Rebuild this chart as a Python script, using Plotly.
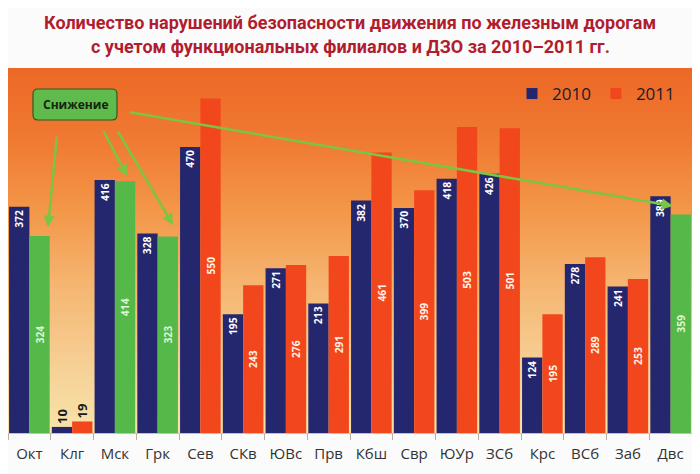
import plotly.graph_objects as go

# ---------------- data ----------------
categories = ["Окт", "Клг", "Мск", "Грк", "Сев", "СКв", "ЮВс", "Прв",
              "Кбш", "Свр", "ЮУр", "ЗСб", "Крс", "ВСб", "Заб", "Двс"]
values_2010 = [372, 10, 416, 328, 470, 195, 271, 213, 382, 370, 418, 426, 124, 278, 241, 389]
values_2011 = [324, 19, 414, 323, 550, 243, 276, 291, 461, 399, 503, 501, 195, 289, 253, 359]
series_names = ["2010", "2011"]
title_lines = ["Количество нарушений безопасности движения по железным дорогам",
               "с учетом функциональных филиалов и ДЗО за 2010–2011 гг."]
callout_text = "Снижение"

# ---------------- styles ----------------
OFF = 8                      # page body margin of the html page
W, H = 700 - OFF, 474 - OFF  # figure size so it fits the window
PLOT_L, PLOT_R, PLOT_T, PLOT_B = 8, 692, 68, 433   # target plot box in page pixels
ML, MR = PLOT_L - OFF, W - (PLOT_R - OFF)
MT, MB = PLOT_T - OFF, H - (PLOT_B - OFF)
PW, PH = W - ML - MR, H - MT - MB
NAVY = "#24266e"
RED = "#f2471d"
GREEN = "#55b94a"
ARROW = "#7cc443"
TITLE_C = "#b11d2f"

def px_to_paper(px, py):
    return (px - OFF - ML) / PW, (H - MB - (py - OFF)) / PH

def small(v):
    return v < 50

red_cols = [GREEN if b < a else RED for a, b in zip(values_2010, values_2011)]
red_txtcol = ["#dff7d2" if b < a else "#fff3ea" for a, b in zip(values_2010, values_2011)]

fig = go.Figure()
fig.add_trace(go.Bar(
    x=categories, y=values_2010, name=series_names[0], showlegend=False,
    marker=dict(color=NAVY, line=dict(width=0)),
    text=[str(v) for v in values_2010],
    textposition=["outside" if small(v) else "inside" for v in values_2010],
    insidetextanchor="end", textangle=-90,
    insidetextfont=dict(family="Open Sans", size=13, color="#ffffff", weight="bold"),
    outsidetextfont=dict(family="Open Sans", size=13, color="#1a1a1a", weight="bold"),
    cliponaxis=False,
))
fig.add_trace(go.Bar(
    x=categories, y=values_2011, name=series_names[1], showlegend=False,
    marker=dict(color=red_cols, line=dict(width=0)),
    text=[str(v) for v in values_2011],
    textposition=["outside" if small(v) else "inside" for v in values_2011],
    insidetextanchor="middle", textangle=-90,
    insidetextfont=dict(family="Open Sans", size=13, color=red_txtcol, weight="bold"),
    outsidetextfont=dict(family="Open Sans", size=13, color="#1a1a1a", weight="bold"),
    cliponaxis=False,
))
# legend entries
for name, col in zip(series_names, [NAVY, RED]):
    fig.add_trace(go.Scatter(x=[None], y=[None], mode="markers", name=name,
                             marker=dict(symbol="square", size=11, color=col,
                                         line=dict(width=0))))

# gradient background of the plot area (horizontal bands)
stops = [(0.0, (248, 228, 170)), (0.18, (246, 208, 150)), (0.40, (245, 182, 114)),
         (0.60, (243, 152, 74)), (0.80, (240, 122, 50)), (1.0, (236, 104, 38))]

def grad(t):
    for (t0, c0), (t1, c1) in zip(stops[:-1], stops[1:]):
        if t0 <= t <= t1:
            f = (t - t0) / (t1 - t0)
            return "rgb(%d,%d,%d)" % tuple(round(a + (b - a) * f) for a, b in zip(c0, c1))
    return "rgb(%d,%d,%d)" % stops[-1][1]

shapes = []
N = 90
for i in range(N):
    y0, y1 = i / N, (i + 1) / N + 0.002
    shapes.append(dict(type="rect", xref="paper", yref="paper", x0=0, x1=1, y0=y0, y1=min(y1, 1),
                       fillcolor=grad((i + 0.5) / N), line=dict(width=0), layer="below"))

# rounded callout box
bx0, by0 = px_to_paper(33, 120)
bx1, by1 = px_to_paper(117, 89)
rx, ry = 5 / PW, 5 / PH
path = (f"M {bx0+rx},{by0} L {bx1-rx},{by0} Q {bx1},{by0} {bx1},{by0+ry} "
        f"L {bx1},{by1-ry} Q {bx1},{by1} {bx1-rx},{by1} L {bx0+rx},{by1} "
        f"Q {bx0},{by1} {bx0},{by1-ry} L {bx0},{by0+ry} Q {bx0},{by0} {bx0+rx},{by0} Z")
shapes.append(dict(type="path", xref="paper", yref="paper", path=path,
                   fillcolor="#5fbb4c", line=dict(color="#2f5a22", width=1.2), layer="above"))

annotations = []
# title lines
for line, py in zip(title_lines, [23, 46]):
    tx, ty = px_to_paper(350, py)
    annotations.append(dict(x=tx, y=ty, xref="paper", yref="paper", text=f"<b>{line}</b>",
                            showarrow=False, xanchor="center", yanchor="middle",
                            font=dict(family="Roboto", size=18, color=TITLE_C)))

cx, cy = px_to_paper(75, 104.5)
annotations.append(dict(x=cx, y=cy, xref="paper", yref="paper", text=f"<b>{callout_text}</b>",
                        showarrow=False, xanchor="center", yanchor="middle",
                        font=dict(family="Open Sans", size=12, color="#15230f")))

arrows = [((57, 135), (48, 227)), ((103, 130), (127, 176)),
          ((117, 130), (173, 225)), ((128, 112), (673, 206))]
for (tx, ty), (hx, hy) in arrows:
    x, y = px_to_paper(hx, hy)
    annotations.append(dict(x=x, y=y, xref="paper", yref="paper", text="", showarrow=True,
                            ax=tx - hx, ay=ty - hy, arrowcolor=ARROW, arrowwidth=2.5,
                            arrowhead=2, arrowsize=0.9, standoff=0, startstandoff=0))

lx, ly = px_to_paper(680, 76)
fig.update_layout(
    width=W, height=H,
    margin=dict(l=ML, r=MR, t=MT, b=MB, autoexpand=False),
    paper_bgcolor="#fbfbfb", plot_bgcolor="rgba(0,0,0,0)",
    barmode="group", bargap=0.05, bargroupgap=0.0,
    legend=dict(orientation="h", x=lx, xanchor="right", y=ly, yanchor="top",
                bgcolor="rgba(0,0,0,0)", font=dict(family="Open Sans", size=17, color="#1b1b2a"),
                itemwidth=30, traceorder="normal", tracegroupgap=0),
    xaxis=dict(showgrid=False, showline=True, linecolor="#c9c0b0", linewidth=1,
               ticks="outside", tickson="boundaries", ticklen=6, tickcolor="#b9b0a0",
               tickangle=0, automargin=False, ticklabelstandoff=7,
               tickfont=dict(family="Open Sans", size=15, color="#333333"),
               range=[-0.5, len(categories) - 0.5]),
    yaxis=dict(range=[0, 600], showgrid=False, showticklabels=False, zeroline=False,
               showline=False, ticks="", automargin=False),
    shapes=shapes, annotations=annotations,
    font=dict(family="Open Sans"),
    showlegend=True,
)

fig.write_html("out.html")
